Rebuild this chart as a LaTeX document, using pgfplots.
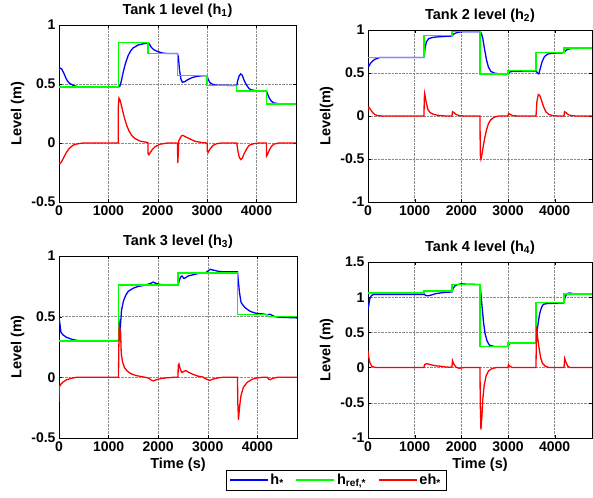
\documentclass[border=0pt]{standalone}
\usepackage{fontspec}
\setmainfont{Liberation Sans}
\usepackage{pgfplots}
\pgfplotsset{compat=1.18}
\definecolor{mblue}{rgb}{0,0,1}
\definecolor{mgreen}{rgb}{0,1,0}
\definecolor{mred}{rgb}{1,0,0}

\pgfplotsset{
  tank/.style={
    scale only axis, anchor=south west,
    xmin=0, xmax=4800, xtick={0,1000,2000,3000,4000},
    grid=major, major grid style={densely dotted, black!45},
    tick align=inside, major tick length=3pt,
    axis line style={black}, tick style={black},
    every tick label/.append style={font=\fontsize{14}{16}\selectfont\bfseries},
    label style={font=\fontsize{14.5}{16}\selectfont\bfseries},
    title style={font=\fontsize{14.5}{16}\selectfont\bfseries, yshift=-2pt},
    /pgf/number format/.cd, fixed, 1000 sep={}, assume math mode=true,
  },
  hline/.style={mblue, line width=1.3pt},
  rline/.style={mgreen, line width=1.3pt},
  eline/.style={mred, line width=1.3pt},
}

\begin{document}
\begin{tikzpicture}[x=1pt,y=1pt]
\useasboundingbox (0,0) rectangle (593,497);

% ---- Tank 1 ----
\begin{axis}[tank, at={(59pt,295pt)}, width=237pt, height=177pt,
  ymin=-0.5, ymax=1, ytick={-0.5,0,0.5,1},
  title={Tank 1 level (h\textsubscript{1})}, ylabel={Level (m)}]
\addplot[hline] coordinates {(0,0.62)(20,0.635)(50,0.63)(100,0.59)(150,0.54)(200,0.51)(300,0.485)(400,0.476)(500,0.474)(1200,0.474)
 (1230,0.48)(1260,0.52)(1300,0.6)(1350,0.68)(1400,0.74)(1450,0.78)(1500,0.805)(1600,0.83)(1700,0.84)(1800,0.848)(1830,0.84)(1870,0.81)(1920,0.79)(2000,0.775)(2100,0.762)(2200,0.758)(2400,0.758)
 (2420,0.72)(2440,0.62)(2470,0.54)(2500,0.515)(2550,0.52)(2600,0.535)(2700,0.555)(2800,0.565)(2900,0.57)(3000,0.57)
 (3020,0.54)(3060,0.51)(3120,0.495)(3200,0.49)(3600,0.487)
 (3620,0.53)(3650,0.57)(3680,0.585)(3710,0.575)(3750,0.53)(3800,0.49)(3850,0.46)(3900,0.45)(4000,0.443)(4200,0.44)
 (4220,0.42)(4260,0.38)(4300,0.355)(4350,0.34)(4450,0.333)(4800,0.33)};
\addplot[rline] coordinates {(0,0.474)(1200,0.474)(1200,0.852)(1800,0.852)(1800,0.758)(2400,0.758)(2400,0.574)(3000,0.574)(3000,0.486)(3600,0.486)(3600,0.44)(4200,0.44)(4200,0.33)(4800,0.33)};
\addplot[eline] coordinates {(0,-0.17)(20,-0.175)(50,-0.16)(100,-0.12)(150,-0.08)(200,-0.05)(250,-0.03)(300,-0.015)(400,-0.005)(500,0)(1200,0)
 (1200,0.3)(1215,0.38)(1240,0.36)(1280,0.29)(1320,0.22)(1370,0.15)(1420,0.1)(1480,0.06)(1550,0.035)(1650,0.015)(1800,0.004)
 (1805,-0.09)(1820,-0.1)(1850,-0.08)(1900,-0.05)(1950,-0.03)(2050,-0.01)(2200,0)(2400,0)
 (2405,-0.17)(2415,-0.1)(2425,0.02)(2440,0.03)(2480,0.06)(2510,0.065)(2550,0.055)(2650,0.035)(2750,0.015)(2900,0.003)(3000,0)
 (3005,-0.07)(3020,-0.08)(3060,-0.05)(3120,-0.02)(3200,-0.005)(3300,0)(3600,0)
 (3620,-0.06)(3650,-0.12)(3680,-0.14)(3710,-0.13)(3750,-0.09)(3800,-0.05)(3850,-0.02)(3950,-0.005)(4050,0)(4200,0)
 (4205,-0.11)(4220,-0.1)(4260,-0.06)(4300,-0.03)(4350,-0.01)(4450,0)(4800,0)};
\end{axis}

% ---- Tank 2 ----
\begin{axis}[tank, at={(368pt,295pt)}, width=224pt, height=172pt,
  ymin=-1, ymax=1, ytick={-1,-0.5,0,0.5,1},
  title={Tank 2 level (h\textsubscript{2})}, ylabel={Level(m)}]
\addplot[hline] coordinates {(0,0.6)(20,0.58)(50,0.61)(100,0.64)(150,0.66)(200,0.67)(250,0.68)(1200,0.68)
 (1220,0.78)(1250,0.86)(1300,0.9)(1400,0.915)(1500,0.92)(1650,0.925)(1800,0.93)
 (1830,0.95)(1880,0.965)(1950,0.975)(2050,0.98)(2400,0.98)
 (2430,0.96)(2460,0.9)(2500,0.77)(2540,0.65)(2580,0.57)(2630,0.52)(2700,0.5)(2800,0.49)(2950,0.48)(3000,0.485)
 (3030,0.51)(3100,0.52)(3600,0.525)
 (3630,0.5)(3660,0.49)(3690,0.55)(3730,0.63)(3780,0.69)(3850,0.72)(3950,0.73)(4200,0.735)
 (4230,0.76)(4280,0.775)(4350,0.785)(4800,0.79)};
\addplot[rline] coordinates {(0,0.68)(1200,0.68)(1200,0.935)(1800,0.935)(1800,0.98)(2400,0.98)(2400,0.49)(3000,0.49)(3000,0.526)(3600,0.526)(3600,0.74)(4200,0.74)(4200,0.79)(4800,0.79)};
\addplot[eline] coordinates {(0,0.08)(20,0.1)(50,0.08)(100,0.04)(150,0.015)(200,0.005)(300,0)(1200,0)
 (1205,0.2)(1215,0.26)(1240,0.18)(1280,0.08)(1330,0.04)(1400,0.02)(1500,0.008)(1650,0)(1800,0)
 (1810,0.05)(1840,0.04)(1880,0.02)(1950,0.005)(2050,0)(2400,0)
 (2405,-0.45)(2420,-0.5)(2440,-0.45)(2470,-0.35)(2500,-0.26)(2540,-0.16)(2580,-0.09)(2630,-0.045)(2700,-0.015)(2800,0)(3000,0)
 (3010,0.03)(3040,0.02)(3100,0.005)(3200,0)(3600,0)
 (3620,0.17)(3650,0.25)(3680,0.24)(3720,0.18)(3760,0.11)(3810,0.05)(3870,0.02)(3950,0.005)(4050,0)(4200,0)
 (4210,0.05)(4240,0.04)(4290,0.015)(4350,0.005)(4450,0)(4800,0)};
\end{axis}

% ---- Tank 3 ----
\begin{axis}[tank, at={(59pt,59pt)}, width=238pt, height=182pt,
  ymin=-0.5, ymax=1, ytick={-0.5,0,0.5,1},
  title={Tank 3 level (h\textsubscript{3})}, ylabel={Level (m)}, xlabel={Time (s)},
  legend columns=3,
  legend style={at={(1.164,-0.231)}, anchor=center, draw=black, fill=white,
    font=\fontsize{14.5}{16}\selectfont\bfseries,
    /tikz/every even column/.append style={column sep=10pt}},
  legend image code/.code={\draw[#1] (0pt,0pt) -- (38pt,0pt);}]
\addplot[hline] coordinates {(0,0.5)(15,0.45)(40,0.37)(80,0.35)(150,0.33)(250,0.315)(350,0.305)(450,0.3)(1200,0.3)
 (1210,0.35)(1230,0.45)(1240,0.43)(1260,0.55)(1300,0.63)(1350,0.68)(1400,0.71)(1500,0.735)(1600,0.75)(1750,0.76)(1850,0.775)(1900,0.785)(1950,0.775)(2050,0.765)(2200,0.76)(2400,0.76)
 (2420,0.79)(2450,0.825)(2480,0.835)(2520,0.815)(2550,0.82)(2600,0.835)(2700,0.845)(2800,0.855)(2950,0.86)(3000,0.875)(3050,0.89)(3100,0.885)(3200,0.875)(3300,0.87)(3600,0.87)
 (3615,0.8)(3640,0.7)(3670,0.62)(3700,0.6)(3750,0.575)(3800,0.56)(3850,0.545)(3950,0.53)(4050,0.525)(4150,0.52)(4200,0.515)
 (4250,0.52)(4280,0.515)(4350,0.5)(4450,0.495)(4800,0.49)};
\addplot[rline] coordinates {(0,0.3)(1200,0.3)(1200,0.76)(2400,0.76)(2400,0.86)(3600,0.86)(3600,0.52)(4200,0.52)(4200,0.5)(4800,0.5)};
\addplot[eline] coordinates {(0,-0.2)(5,-0.08)(30,-0.06)(80,-0.04)(150,-0.02)(250,-0.008)(350,0)(1200,0)
 (1205,0.2)(1215,0.45)(1225,0.3)(1240,0.4)(1255,0.2)(1280,0.13)(1320,0.08)(1380,0.05)(1450,0.03)(1550,0.015)(1700,0.003)(1800,-0.005)(1850,-0.02)(1900,-0.03)(1960,-0.02)(2050,-0.01)(2150,-0.005)(2300,0)(2400,0)
 (2405,0.1)(2420,0.11)(2450,0.06)(2480,0.04)(2520,0.05)(2560,0.055)(2620,0.04)(2700,0.025)(2800,0.01)(2900,0.003)(2950,-0.01)(3000,-0.02)(3050,-0.025)(3100,-0.015)(3200,-0.005)(3300,0)(3600,0)
 (3605,-0.2)(3620,-0.35)(3640,-0.25)(3670,-0.15)(3720,-0.08)(3800,-0.04)(3900,-0.015)(4000,-0.005)(4100,0)(4200,0)
 (4230,-0.015)(4260,-0.02)(4300,-0.01)(4400,0)(4800,0)};
\legend{h\textsubscript{*}, h\textsubscript{ref,*}, eh\textsubscript{*}}
\end{axis}

% ---- Tank 4 ----
\begin{axis}[tank, at={(368pt,59pt)}, width=224pt, height=176pt,
  ymin=-1, ymax=1.5, ytick={-1,-0.5,0,0.5,1,1.5},
  title={Tank 4 level (h\textsubscript{4})}, ylabel={Level (m)}, xlabel={Time (s)}]
\addplot[hline] coordinates {(0,0.82)(20,0.9)(40,0.98)(70,1.02)(120,1.04)(1200,1.04)
 (1250,1.02)(1300,1.02)(1350,1.03)(1450,1.05)(1600,1.065)(1800,1.075)
 (1820,1.12)(1860,1.16)(1920,1.18)(2000,1.19)(2100,1.185)(2400,1.18)
 (2420,1.05)(2450,0.82)(2480,0.62)(2510,0.48)(2550,0.38)(2600,0.32)(2700,0.3)(3000,0.3)
 (3030,0.34)(3100,0.35)(3600,0.35)
 (3620,0.5)(3650,0.65)(3680,0.77)(3720,0.86)(3760,0.9)(3850,0.91)(4200,0.92)
 (4220,0.99)(4260,1.05)(4320,1.06)(4400,1.05)(4800,1.045)};
\addplot[rline] coordinates {(0,1.06)(1200,1.06)(1200,1.09)(1800,1.09)(1800,1.18)(2400,1.18)(2400,0.3)(3000,0.3)(3000,0.35)(3600,0.35)(3600,0.92)(4200,0.92)(4200,1.045)(4800,1.045)};
\addplot[eline] coordinates {(0,0.24)(15,0.15)(40,0.07)(80,0.02)(150,0.003)(250,0)(1200,0)
 (1210,0.04)(1250,0.055)(1300,0.05)(1350,0.04)(1450,0.025)(1550,0.02)(1650,0.01)(1750,0.005)(1800,0.01)
 (1810,0.1)(1840,0.05)(1880,0.01)(1950,-0.01)(2050,0)(2400,0)
 (2405,-0.5)(2420,-0.88)(2440,-0.7)(2460,-0.45)(2490,-0.25)(2530,-0.12)(2580,-0.05)(2650,-0.015)(2750,0)(3000,0)
 (3010,0.04)(3040,0.02)(3100,0)(3600,0)
 (3605,0.3)(3615,0.58)(3630,0.45)(3660,0.3)(3700,0.14)(3740,0.06)(3800,0.02)(3880,0)(4200,0)
 (4215,0.13)(4240,0.08)(4280,0.02)(4330,0)(4800,0)};
\end{axis}
\end{tikzpicture}
\end{document}
